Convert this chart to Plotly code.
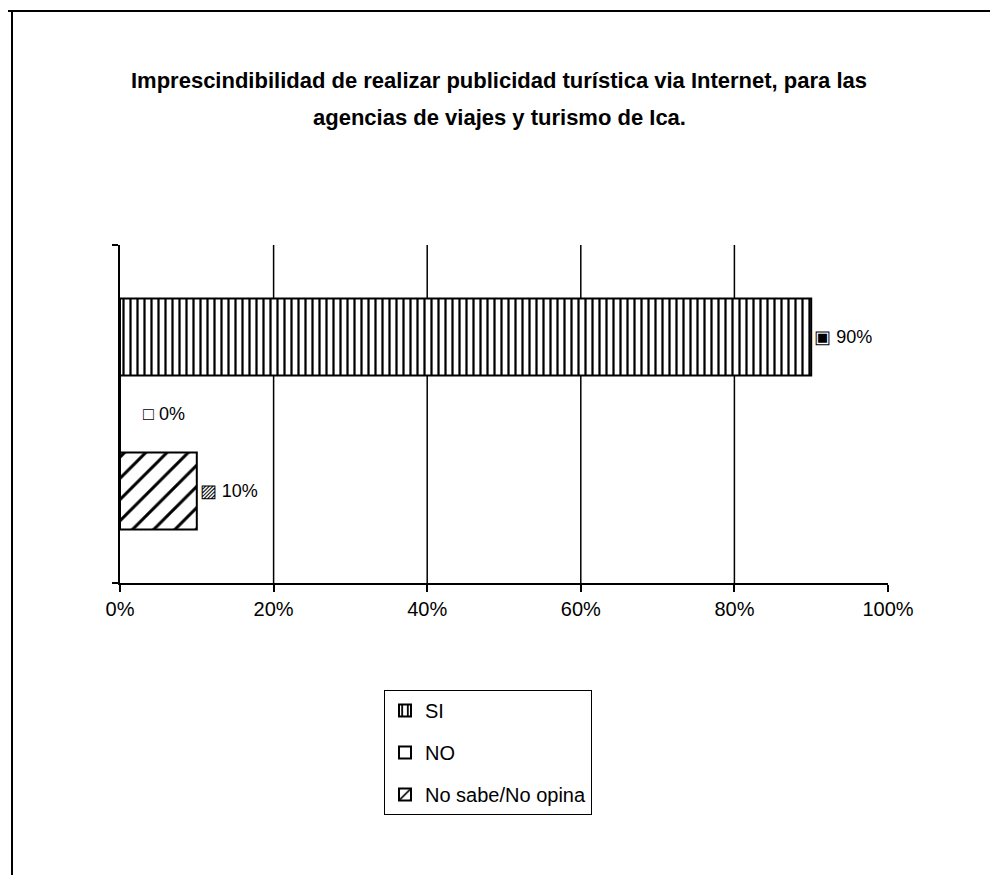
import plotly.graph_objects as go

# Survey answers, one bar per answer for a single question
categoria = ["Agencias"]
respuestas = ["SI", "NO", "No sabe/No opina"]
valores = [0.90, 0.00, 0.10]
iconos = ["▣", "□", "▨"]
prefijos = ["", "\u2007\u2007", ""]
patrones = ["|", "", "/"]
tamanos_patron = [7, 8, 15]
solidez = [0.32, 0.3, 0.2]

ticks_x = [0, 0.2, 0.4, 0.6, 0.8, 1.0]
grid_x = [0.2, 0.4, 0.6, 0.8]

titulo_1 = "Imprescindibilidad de realizar publicidad turística via Internet, para las"
titulo_2 = "agencias de viajes y turismo de Ica."

W, H = 998, 875
ML, MR, MT, MB = 120, 110, 245, 292
PW, PH = W - ML - MR, H - MT - MB


def px(x):
    return (x - ML) / PW


def py(y):
    return (H - MB - y) / PH


FONT = "Liberation Sans Narrow, Liberation Sans, Arial, sans-serif"


def fnt(size, **kw):
    return dict(family=FONT, size=size, color="black", **kw)


fig = go.Figure()
for i, (nombre, v) in enumerate(zip(respuestas, valores)):
    fig.add_trace(go.Bar(
        y=categoria, x=[v], name=nombre, orientation="h",
        legendgroup=nombre,
        marker=dict(
            color="white",
            line=dict(color="black", width=2),
            pattern=dict(shape=patrones[i], fgcolor="black", bgcolor="white",
                         fgopacity=1, fillmode="replace",
                         size=tamanos_patron[i], solidity=solidez[i]),
        ),
        text=[f"{prefijos[i]}{iconos[i]} {v:.0%}"],
        textposition="outside",
        textfont=fnt(18),
        cliponaxis=False,
    ))

shapes = []
for g in grid_x:
    shapes.append(dict(type="line", xref="x", yref="paper", x0=g, x1=g, y0=0, y1=1,
                       line=dict(color="black", width=1.5), layer="below"))
# outer frame (top and left edges)
shapes.append(dict(type="line", xref="paper", yref="paper", x0=px(8), x1=px(990),
                   y0=py(11), y1=py(11), line=dict(color="black", width=2)))
shapes.append(dict(type="line", xref="paper", yref="paper", x0=px(12), x1=px(12),
                   y0=py(11), y1=py(880), line=dict(color="black", width=2)))

fig.update_layout(
    width=W, height=H,
    margin=dict(l=ML, r=MR, t=MT, b=MB),
    paper_bgcolor="white", plot_bgcolor="white",
    barmode="group", bargap=0.317, bargroupgap=0,
    font=fnt(18),
    title=dict(text="<b>" + titulo_1 + "</b>", x=0.5, xanchor="center",
               y=1 - 80 / H, yanchor="middle", yref="container",
               font=fnt(22)),
    annotations=[dict(text="<b>" + titulo_2 + "</b>", xref="paper", yref="paper",
                      x=px(499), y=py(118), xanchor="center", yanchor="middle",
                      showarrow=False, font=fnt(22))],
    xaxis=dict(range=[0, 1], tickvals=ticks_x, tickformat=".0%", showgrid=False,
               showline=True, linecolor="black", linewidth=2,
               ticks="outside", ticklen=7, tickcolor="black", tickwidth=1.5,
               ticklabelstandoff=0, zeroline=False,
               tickfont=fnt(20)),
    yaxis=dict(autorange="reversed", showline=True, linecolor="black", linewidth=2,
               showticklabels=False, ticks="outside", tickson="boundaries",
               ticklen=6, tickcolor="black", tickwidth=1.5, showgrid=False),
    legend=dict(x=px(384), y=py(690), xanchor="left", yanchor="top",
                bordercolor="black", borderwidth=1, bgcolor="white",
                traceorder="grouped", tracegroupgap=13,
                font=fnt(20)),
    shapes=shapes,
)

fig.write_html("out.html")
